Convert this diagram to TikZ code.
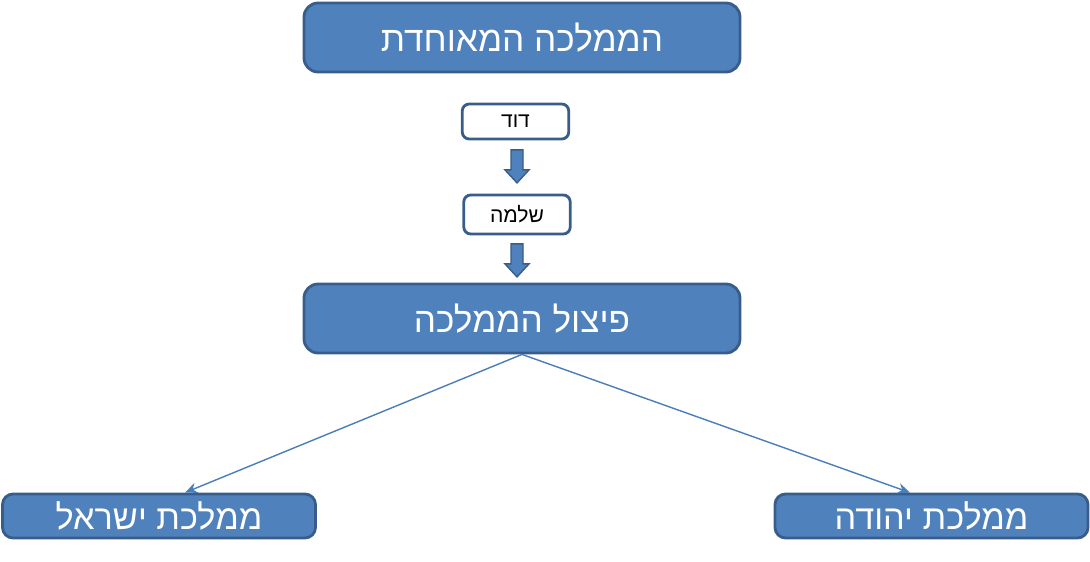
\documentclass[tikz,border=0pt]{standalone}
\usepackage{fontspec}
\newfontfamily\hebfont[Script=Hebrew]{Liberation Sans}
\TeXXeTstate=1
\usetikzlibrary{positioning, calc, arrows.meta}
\definecolor{boxfill}{HTML}{4F81BD}
\definecolor{boxline}{HTML}{385D8A}
\definecolor{linkline}{HTML}{4A7EBB}
\tikzset{
  bigbox/.style={draw=boxline, fill=boxfill, line width=1.6pt, rounded corners=8pt,
    text=white, font=\hebfont\fontsize{20}{24}\selectfont, minimum width=8.72cm, minimum height=1.38cm},
  smallbox/.style={draw=boxline, fill=white, line width=1.6pt, rounded corners=4pt,
    font=\hebfont\fontsize{12}{14}\selectfont, minimum width=2.13cm, minimum height=0.7cm},
  endbox/.style={draw=boxline, fill=boxfill, line width=1.6pt, rounded corners=6pt,
    text=white, font=\hebfont\fontsize{19.5}{22}\selectfont, minimum width=6.26cm, minimum height=0.88cm},
  link/.style={-{Stealth[length=7pt,width=6pt]}, draw=linkline, line width=0.8pt}
}
% block arrow pointing down from a point
\newcommand{\downarrowblock}[1]{
  \filldraw[fill=boxfill, draw=boxline, line width=0.8pt]
    (#1) +(-0.12,0) -- +(0.12,0) -- +(0.12,-0.4) -- +(0.24,-0.4)
    -- +(0,-0.66) -- +(-0.24,-0.4) -- +(-0.12,-0.4) -- cycle;
}

\begin{document}
\begin{tikzpicture}
  \useasboundingbox (0,0) rectangle (21.8,11.22);

  \node[bigbox] (united) at (10.44,10.47) {\beginR הממלכה המאוחדת\endR};
  \node[smallbox] (david) at (10.31,8.79) {\beginR דוד\endR};
  \node[smallbox, minimum height=0.78cm] (solomon) at (10.34,6.93) {\beginR שלמה\endR};
  \node[bigbox] (split) at (10.44,4.85) {\beginR פיצול הממלכה\endR};
  \node[endbox] (israel) at (3.18,0.9) {\beginR ממלכת ישראל\endR};
  \node[endbox] (judah) at (18.63,0.9) {\beginR ממלכת יהודה\endR};

  \coordinate (a1) at ($(david.south)+(0.03,-0.19)$);
  \coordinate (a2) at ($(solomon.south)+(0,-0.17)$);
  \downarrowblock{a1}
  \downarrowblock{a2}

  \draw[link] (split.south) -- ($(israel.north)+(0.52,0)$);
  \draw[link] (split.south) -- ($(judah.north)+(-0.43,0)$);
\end{tikzpicture}
\end{document}
